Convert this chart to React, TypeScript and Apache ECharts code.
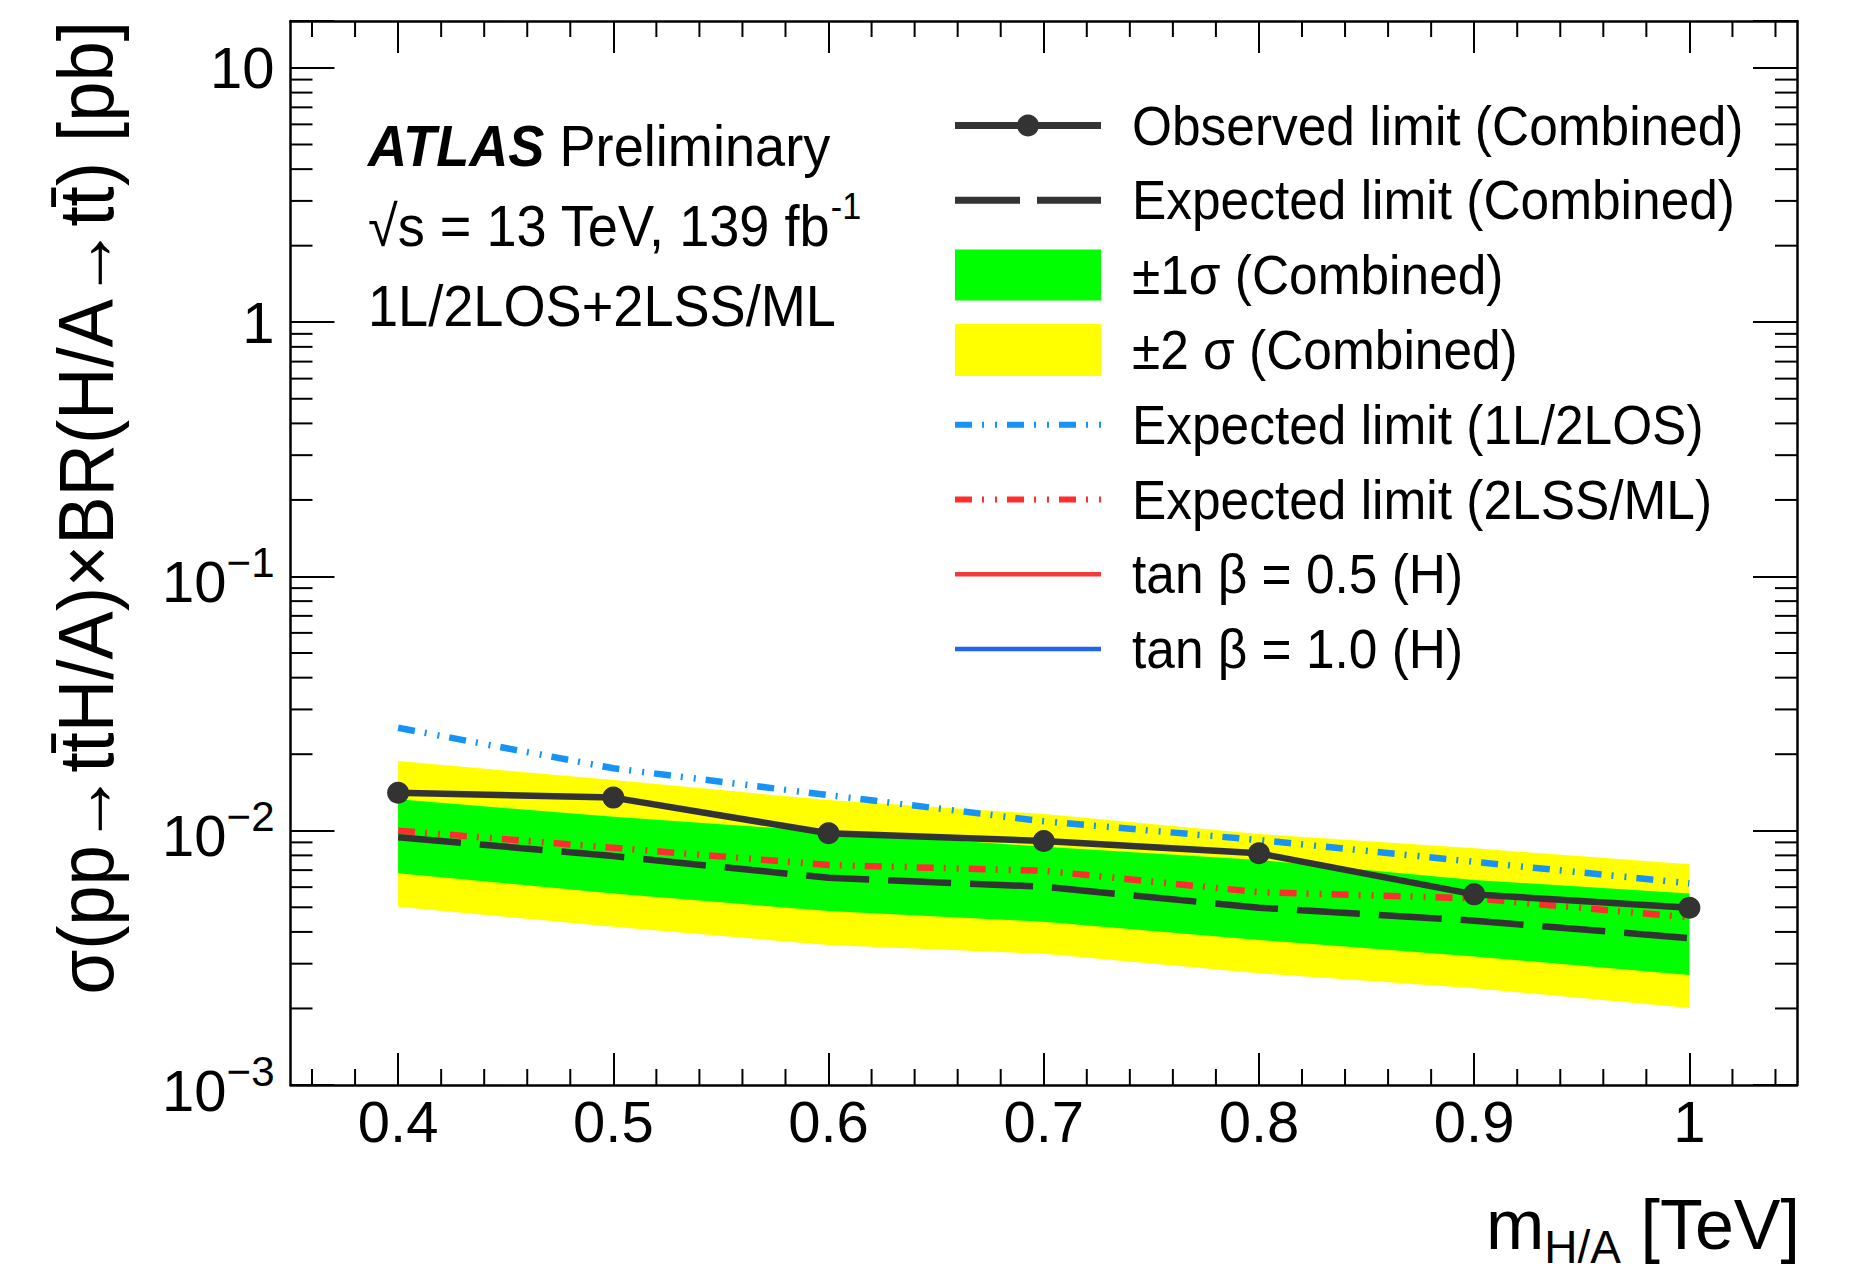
import { useEffect, useRef } from 'react';
import * as echarts from 'echarts';

const FONT = '"Liberation Sans", Arial, Helvetica, sans-serif';

// ---- data ----
const masses = [0.4, 0.5, 0.6, 0.7, 0.8, 0.9, 1.0];
const observedLimit = [0.0141, 0.0135, 0.00977, 0.00911, 0.00815, 0.00562, 0.00498];
const expectedLimit = [0.00942, 0.00795, 0.00653, 0.00602, 0.00498, 0.00443, 0.00378];
const band1Up = [0.01329, 0.01135, 0.00991, 0.00865, 0.00767, 0.0064, 0.00567];
const band1Down = [0.0068, 0.00567, 0.00483, 0.00439, 0.00372, 0.0032, 0.00271];
const band2Up = [0.0188, 0.01583, 0.0132, 0.01163, 0.00971, 0.00853, 0.00738];
const band2Down = [0.00502, 0.00419, 0.00355, 0.00328, 0.00275, 0.0024, 0.00201];
const expected1L2LOS = [0.0254, 0.0176, 0.0138, 0.01089, 0.00919, 0.00755, 0.00621];
const expected2LSSML = [0.01, 0.00857, 0.00733, 0.00696, 0.00573, 0.00542, 0.00456];

// ---- axes ----
const X_MIN = 0.35;
const X_MAX = 1.05;
const Y_MIN = 0.001;
const Y_MAX = 15.3;
const xMajorTicks = [0.4, 0.5, 0.6, 0.7, 0.8, 0.9, 1.0];
const xMinorTicks = [
  0.36, 0.38, 0.42, 0.44, 0.46, 0.48, 0.52, 0.54, 0.56, 0.58, 0.62, 0.64, 0.66, 0.68,
  0.72, 0.74, 0.76, 0.78, 0.82, 0.84, 0.86, 0.88, 0.92, 0.94, 0.96, 0.98, 1.02, 1.04,
];
const yMinorTicks = [
  0.002, 0.003, 0.004, 0.005, 0.006, 0.007, 0.008, 0.009,
  0.02, 0.03, 0.04, 0.05, 0.06, 0.07, 0.08, 0.09,
  0.2, 0.3, 0.4, 0.5, 0.6, 0.7, 0.8, 0.9,
  2, 3, 4, 5, 6, 7, 8, 9,
];

const legendLabels = [
  'Observed limit (Combined)',
  'Expected limit (Combined)',
  '±1σ (Combined)',
  '±2 σ (Combined)',
  'Expected limit (1L/2LOS)',
  'Expected limit (2LSS/ML)',
  'tan β = 0.5 (H)',
  'tan β = 1.0 (H)',
];

const yTitle = 'σ(pp→tt̄H/A)×BR(H/A→tt̄) [pb]';

const C_DARK = '#333333';
const C_BLUE_DD = '#1793f5';
const C_RED_DD = '#ff2e2e';
const C_RED = '#f23a3a';
const C_BLUE = '#2163f2';
const C_GREEN = '#00ff00';
const C_YELLOW = '#ffff00';
const DASH_DD = [17, 10, 2, 11, 2, 10];
const DASH_EXP = [63, 19];

const pairs = (ys: number[]) => masses.map((m, i) => [m, ys[i]]);

const bandRenderer = (upper: number[], lower: number[], color: string) => (_p: any, api: any) => {
  const pts: number[][] = [];
  masses.forEach((m, i) => pts.push(api.coord([m, upper[i]])));
  for (let i = masses.length - 1; i >= 0; i--) pts.push(api.coord([masses[i], lower[i]]));
  return { type: 'polygon', silent: true, shape: { points: pts }, style: { fill: color, lineWidth: 0 } };
};

const minorTickRenderer = (_p: any, api: any) => {
  const children: any[] = [];
  const st = { stroke: '#000', lineWidth: 2 };
  xMinorTicks.forEach((v) => {
    const b = api.coord([v, Y_MIN]);
    const t = api.coord([v, Y_MAX]);
    children.push({ type: 'line', shape: { x1: b[0], y1: b[1], x2: b[0], y2: b[1] - 16 }, style: st });
    children.push({ type: 'line', shape: { x1: t[0], y1: t[1], x2: t[0], y2: t[1] + 16 }, style: st });
  });
  yMinorTicks.forEach((v) => {
    const l = api.coord([X_MIN, v]);
    const r = api.coord([X_MAX, v]);
    children.push({ type: 'line', shape: { x1: l[0], y1: l[1], x2: l[0] + 22, y2: l[1] }, style: st });
    children.push({ type: 'line', shape: { x1: r[0], y1: r[1], x2: r[0] - 22, y2: r[1] }, style: st });
  });
  return { type: 'group', silent: true, children };
};

const yLabel = (v: number) => {
  const lg = Math.log10(v);
  const e = Math.round(lg);
  if (Math.abs(lg - e) > 1e-6) return '';
  if (e === 0) return '1';
  if (e === 1) return '10';
  return `{b|10}{s|−${-e}}`;
};

const txt = (extra: any) => ({
  fontFamily: FONT,
  fill: '#000',
  ...extra,
});

function buildLegend() {
  const x0 = 955;
  const x1 = 1101;
  const tx = 1132;
  const y0 = 125.5;
  const dy = 74.8;
  const els: any[] = [];
  legendLabels.forEach((label, i) => {
    els.push({
      type: 'text',
      x: tx,
      y: y0 + i * dy,
      scaleX: 0.935,
      style: txt({ text: label, fontSize: 55, align: 'left', verticalAlign: 'middle', textAlign: 'left', textVerticalAlign: 'middle' }),
    });
  });
  const ly = (i: number) => y0 + i * dy;
  els.push({ type: 'line', shape: { x1: x0, y1: ly(0), x2: x1, y2: ly(0) }, style: { stroke: C_DARK, lineWidth: 7 } });
  els.push({ type: 'circle', shape: { cx: (x0 + x1) / 2, cy: ly(0), r: 11 }, style: { fill: C_DARK } });
  els.push({ type: 'line', shape: { x1: x0, y1: ly(1), x2: x1, y2: ly(1) }, style: { stroke: C_DARK, lineWidth: 7, lineDash: [65, 17] } });
  els.push({ type: 'rect', shape: { x: x0, y: ly(2) - 25.5, width: x1 - x0, height: 51 }, style: { fill: C_GREEN } });
  els.push({ type: 'rect', shape: { x: x0, y: ly(3) - 26, width: x1 - x0, height: 52 }, style: { fill: C_YELLOW } });
  els.push({ type: 'line', shape: { x1: x0, y1: ly(4), x2: x1, y2: ly(4) }, style: { stroke: C_BLUE_DD, lineWidth: 6, lineDash: DASH_DD } });
  els.push({ type: 'line', shape: { x1: x0, y1: ly(5), x2: x1, y2: ly(5) }, style: { stroke: C_RED_DD, lineWidth: 6, lineDash: DASH_DD } });
  els.push({ type: 'line', shape: { x1: x0, y1: ly(6), x2: x1, y2: ly(6) }, style: { stroke: C_RED, lineWidth: 4.5 } });
  els.push({ type: 'line', shape: { x1: x0, y1: ly(7), x2: x1, y2: ly(7) }, style: { stroke: C_BLUE, lineWidth: 4.5 } });
  return els;
}

function buildTexts() {
  const base = { fontFamily: FONT, fill: '#000' };
  return [
    {
      type: 'text',
      x: 368,
      y: 147,
      scaleX: 0.95,
      style: {
        ...base,
        text: '{a|ATLAS} {p|Preliminary}',
        fontSize: 57,
        align: 'left', verticalAlign: 'middle', textAlign: 'left', textVerticalAlign: 'middle',
        rich: {
          a: { ...base, fontSize: 57, fontWeight: 'bold', fontStyle: 'italic' },
          p: { ...base, fontSize: 57 },
        },
      },
    },
    {
      type: 'text',
      x: 368,
      y: 227,
      scaleX: 0.95,
      style: {
        ...base,
        text: '{n|√s = 13 TeV, 139 fb}{sup|-1}',
        fontSize: 57,
        align: 'left', verticalAlign: 'middle', textAlign: 'left', textVerticalAlign: 'middle',
        rich: {
          n: { ...base, fontSize: 57, lineHeight: 57 },
          sup: { ...base, fontSize: 36, lineHeight: 36, padding: [0, 0, 42, 0] },
        },
      },
    },
    {
      type: 'text',
      x: 368,
      y: 307,
      scaleX: 0.95,
      style: { ...base, text: '1L/2LOS+2LSS/ML', fontSize: 57, align: 'left', verticalAlign: 'middle', textAlign: 'left', textVerticalAlign: 'middle' },
    },
    {
      type: 'text',
      x: 86,
      y: 21,
      rotation: Math.PI / 2,
      scaleX: 0.93,
      style: { ...base, text: yTitle, fontSize: 78, align: 'right', verticalAlign: 'middle', textAlign: 'right', textVerticalAlign: 'middle' },
    },
    {
      type: 'text',
      x: 1800,
      y: 1225,
      style: {
        ...base,
        text: '{m|m}{sub|H/A}{m| [TeV]}',
        fontSize: 70,
        align: 'right', verticalAlign: 'middle', textAlign: 'right', textVerticalAlign: 'middle',
        rich: {
          m: { ...base, fontSize: 70, lineHeight: 70 },
          sub: { ...base, fontSize: 46, lineHeight: 46, padding: [44, 0, 0, 0] },
        },
      },
    },
  ];
}

export default function App() {
  const ref = useRef<HTMLDivElement>(null);
  useEffect(() => {
    if (!ref.current) return;
    const chart = echarts.init(ref.current, null, { renderer: 'svg' });
    const axisLine = { show: true, onZero: false, lineStyle: { color: '#000', width: 2.5 } };
    const tickStyle = { color: '#000', width: 2 };
    const xCommon = {
      type: 'value',
      min: X_MIN,
      max: X_MAX,
      splitLine: { show: false },
      axisLine,
      axisTick: { show: true, inside: true, length: 32, customValues: xMajorTicks, lineStyle: tickStyle },
    };
    const yCommon = {
      type: 'log',
      logBase: 10,
      min: Y_MIN,
      max: Y_MAX,
      splitLine: { show: false },
      minorTick: { show: false },
      axisLine,
      axisTick: { show: true, inside: true, length: 44, lineStyle: tickStyle },
    };
    const option: any = {
      animation: false,
      backgroundColor: '#ffffff',
      grid: { left: 290.5, right: 53, top: 21, bottom: 189, containLabel: false, outerBoundsMode: 'none' },
      xAxis: [
        {
          ...xCommon,
          position: 'bottom',
          axisLabel: {
            show: true,
            customValues: xMajorTicks,
            formatter: (v: number) => String(Math.round(v * 10) / 10),
            fontSize: 58,
            fontFamily: FONT,
            color: '#000',
            margin: 7,
          },
        },
        { ...xCommon, position: 'top', axisLabel: { show: false } },
      ],
      yAxis: [
        {
          ...yCommon,
          position: 'left',
          axisLabel: {
            show: true,
            formatter: yLabel,
            fontSize: 58,
            fontFamily: FONT,
            color: '#000',
            margin: 16,
            rich: {
              b: { fontSize: 58, fontFamily: FONT, color: '#000', lineHeight: 62, padding: [10, 0, 0, 0] },
              s: { fontSize: 42, fontFamily: FONT, color: '#000', lineHeight: 42, padding: [0, 0, 28, 0] },
            },
          },
        },
        { ...yCommon, position: 'right', axisLabel: { show: false } },
      ],
      series: [
        { type: 'custom', name: '±2σ (Combined)', renderItem: bandRenderer(band2Up, band2Down, C_YELLOW), data: [[0.7, 0.01]], silent: true },
        { type: 'custom', name: '±1σ (Combined)', renderItem: bandRenderer(band1Up, band1Down, C_GREEN), data: [[0.7, 0.01]], silent: true },
        {
          type: 'line', name: 'Expected limit (1L/2LOS)', data: pairs(expected1L2LOS), symbol: 'none', silent: true,
          lineStyle: { color: C_BLUE_DD, width: 6.5, type: DASH_DD, cap: 'butt' },
        },
        {
          type: 'line', name: 'Expected limit (2LSS/ML)', data: pairs(expected2LSSML), symbol: 'none', silent: true,
          lineStyle: { color: C_RED_DD, width: 6.5, type: DASH_DD, cap: 'butt' },
        },
        {
          type: 'line', name: 'Expected limit (Combined)', data: pairs(expectedLimit), symbol: 'none', silent: true,
          lineStyle: { color: C_DARK, width: 6.5, type: DASH_EXP, cap: 'butt' },
        },
        {
          type: 'line', name: 'Observed limit (Combined)', data: pairs(observedLimit), symbol: 'circle', symbolSize: 22, silent: true,
          itemStyle: { color: C_DARK }, lineStyle: { color: C_DARK, width: 6.5 },
        },
        { type: 'custom', name: 'minor ticks', renderItem: minorTickRenderer, data: [[0.7, 0.01]], silent: true, z: 10 },
      ],
      graphic: [...buildLegend(), ...buildTexts()],
    };
    chart.setOption(option);
    return () => chart.dispose();
  }, []);
  return (
    <div
      ref={ref}
      style={{ position: 'absolute', left: 0, top: 0, width: 1850, height: 1274, background: '#fff' }}
    />
  );
}
